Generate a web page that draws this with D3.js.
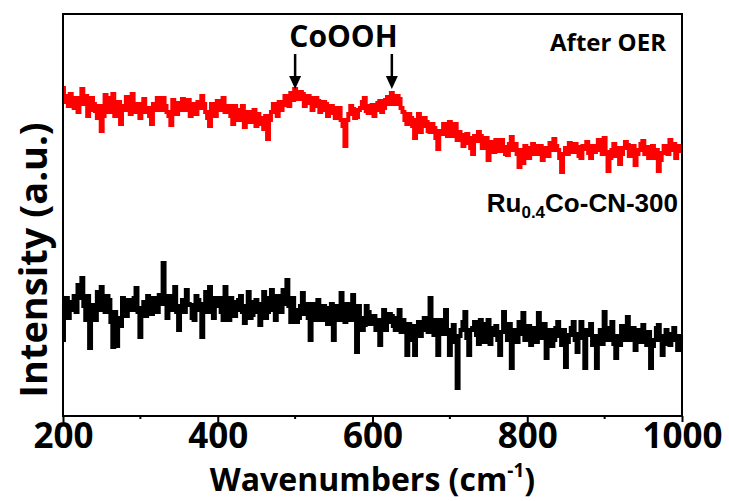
<!DOCTYPE html>
<html>
<head>
<meta charset="utf-8">
<script src="https://cdn.jsdelivr.net/npm/d3@7"></script>
<style>
  body { margin: 0; background: #fff; }
  text { font-family: "Open Sans", sans-serif; font-weight: bold; }
</style>
</head>
<body>
<div class="canvas"></div>
<script>
// wavenumber grid, 200..1000 step 2.5
const xStart = 200, xStep = 2.5;

// Ru0.4Co-CN-300 after OER (red), arbitrary units
const redValues = [
  328,314, 320,310, 322,312, 308,318, 304,316, 327,312, 320,300, 306,318, 312,305, 298,310,
  285,300, 321,308, 304,318, 322,300, 308,314, 292,310, 306,319, 313,302, 322,310, 304,312,
  298,310, 317,304, 308,300, 292,312, 306,318, 312,306, 318,310, 304,300, 291,316, 308,302,
  313,306, 317,310, 306,316, 300,312, 310,302, 314,308, 320,312, 304,298, 290,312, 308,300,
  315,306, 312,318, 304,310, 310,300, 292,310, 306,296, 301,310, 289,302, 304,294, 296,306,
  290,302, 298,292, 287,300, 277,296, 304,312, 308,300, 314,306, 311,320, 318,310, 323,316,
  327,318, 317,324, 322,310, 313,320, 318,306, 310,318, 315,304, 306,314, 312,300, 303,310,
  308,298, 301,308, 296,290, 270,296, 302,310, 307,298, 299,306, 308,314, 318,305, 303,310,
  311,300, 306,313, 315,304, 308,316, 319,312, 323,316, 312,320, 317,308, 304,296, 292,302,
  298,290, 278,296, 302,284, 290,298, 294,285, 284,292, 288,278, 267,285, 282,292, 289,280,
  294,280, 285,292, 276,284, 281,270, 273,282, 278,268, 262,280, 275,284, 280,268, 271,278,
  256,270, 274,264, 276,270, 265,276, 269,262, 261,272, 279,266, 272,262, 249,266, 253,270,
  268,258, 262,272, 270,262, 265,270, 256,268, 267,260, 273,266, 277,270, 266,258, 244,262,
  268,262, 273,266, 264,272, 269,260, 258,270, 267,274, 263,258, 270,264, 266,276, 272,262,
  278,264, 245,258, 266,272, 260,268, 252,262, 268,274, 271,260, 264,270, 251,262, 266,272,
  275,262, 269,258, 264,270, 258,266, 245,256, 263,270, 270,262, 276,266, 272,258, 265,270,
  267
];

// Ru0.4Co-CN-300 before (black)
const blackValues = [
  76,110, 118,98, 106,114, 120,104, 131,118, 138,110, 96,120, 68,100, 111,96, 124,106,
  129,112, 104,120, 116,94, 69,104, 70,98, 90,118, 112,100, 116,106, 106,118, 128,104,
  79,108, 114,100, 120,110, 102,118, 116,104, 121,112, 153,116, 98,120, 106,112, 129,104,
  86,110, 116,104, 126,112, 111,98, 96,120, 116,106, 79,112, 124,104, 129,110, 98,118,
  110,118, 104,96, 129,112, 96,118, 114,100, 106,116, 120,104, 93,110, 124,98, 101,114,
  116,104, 91,112, 124,98, 104,118, 126,106, 96,120, 116,104, 126,112, 136,110, 94,118,
  106,94, 98,110, 123,102, 112,98, 76,112, 104,96, 116,106, 96,110, 108,92, 101,112,
  76,100, 110,96, 123,108, 94,112, 106,96, 121,102, 64,110, 98,86, 91,110, 104,92,
  96,100, 86,96, 71,92, 106,86, 94,102, 100,90, 86,98, 106,84, 96,88, 61,92,
  76,90, 61,84, 94,80, 86,98, 98,84, 118,92, 81,96, 61,88, 96,82, 106,86,
  61,84, 91,74, 28,80, 86,94, 104,78, 61,86, 88,94, 81,72, 96,84, 74,92,
  96,72, 81,88, 90,76, 61,84, 104,86, 76,92, 48,80, 86,74, 94,82, 103,76,
  81,90, 71,84, 88,74, 103,80, 78,92, 58,78, 86,70, 76,88, 94,80, 71,86,
  49,74, 81,88, 94,76, 64,82, 94,78, 48,86, 81,92, 71,80, 48,78, 86,72,
  104,84, 76,88, 94,72, 58,80, 71,90, 81,76, 99,82, 76,88, 66,78, 86,74,
  91,78, 71,84, 48,70, 76,88, 91,76, 61,80, 86,72, 71,82, 88,76, 66,80,
  74
];

const xTicks = [200, 400, 600, 800, 1000];
const xMinorTicks = [300, 500, 700, 900];
const peakMarks = [500, 625];

const W = 729, H = 501;
const margin = { left: 63, right: 47, top: 14, bottom: 85 };

const svg = d3.select('.canvas').append('svg')
  .attr('width', W).attr('height', H);

const x = d3.scaleLinear().domain([200, 1000]).range([margin.left, W - margin.right]);
const y = d3.scaleLinear().domain([0, 402]).range([H - margin.bottom, margin.top]);

const toPoints = vals => vals.map((v, i) => ({ x: xStart + i * xStep, y: v }));

const line = d3.line()
  .x(d => x(d.x))
  .y(d => y(d.y))
  .curve(d3.curveStep);

svg.append('path')
  .datum(toPoints(redValues))
  .attr('d', line)
  .attr('fill', 'none')
  .attr('stroke', '#ff0000')
  .attr('stroke-width', 4);

svg.append('path')
  .datum(toPoints(blackValues))
  .attr('d', line)
  .attr('fill', 'none')
  .attr('stroke', '#000')
  .attr('stroke-width', 4);

// frame
svg.append('rect')
  .attr('x', margin.left).attr('y', margin.top)
  .attr('width', W - margin.left - margin.right)
  .attr('height', H - margin.top - margin.bottom)
  .attr('fill', 'none').attr('stroke', '#000').attr('stroke-width', 2);

// x axis
const xAxis = svg.append('g')
  .attr('transform', `translate(0,${H - margin.bottom})`)
  .call(d3.axisBottom(x).tickValues(xTicks).tickSize(6).tickPadding(1).tickFormat(d3.format('d')));
xAxis.select('.domain').remove();
xAxis.selectAll('line').attr('stroke-width', 2);
xAxis.selectAll('text').attr('fill', '#000')
  .style('font-size', '35px')
  .style('font-family', '"Open Sans", sans-serif').style('font-weight', 'bold');

svg.append('g')
  .attr('transform', `translate(0,${H - margin.bottom})`)
  .selectAll('line').data(xMinorTicks).join('line')
  .attr('x1', d => x(d)).attr('x2', d => x(d))
  .attr('y1', 0).attr('y2', 3)
  .attr('stroke', '#000').attr('stroke-width', 2);

// axis titles
const xt = svg.append('text')
  .attr('x', (margin.left + W - margin.right) / 2)
  .attr('y', 491)
  .attr('text-anchor', 'middle')
  .attr('font-size', 32);
xt.append('tspan').text('Wavenumbers (cm');
xt.append('tspan').attr('font-size', 19).attr('dy', -14).text('-1');
xt.append('tspan').attr('dy', 14).text(')');

svg.append('text')
  .attr('transform', `translate(47,260) rotate(-90)`)
  .attr('text-anchor', 'middle')
  .attr('font-size', 38)
  .text('Intensity (a.u.)');

// annotations
svg.append('text')
  .attr('x', d3.mean(peakMarks, d => x(d)))
  .attr('y', 47)
  .attr('text-anchor', 'middle')
  .attr('font-size', 30)
  .text('CoOOH');

const arrows = svg.append('g').selectAll('g').data(peakMarks).join('g')
  .attr('transform', d => `translate(${x(d)},0)`);
arrows.append('line')
  .attr('x1', 0).attr('x2', 0).attr('y1', 54).attr('y2', 78)
  .attr('stroke', '#000').attr('stroke-width', 2.5);
arrows.append('path')
  .attr('d', 'M-6,76 L6,76 L0,89 Z')
  .attr('fill', '#000');

svg.append('text')
  .attr('x', 666).attr('y', 51)
  .attr('text-anchor', 'end')
  .attr('font-size', 24)
  .text('After OER');

const lab = svg.append('text')
  .attr('x', 678).attr('y', 212)
  .attr('text-anchor', 'end')
  .style('font-family', '"Liberation Sans", Arial, sans-serif')
  .attr('font-size', 26);
lab.append('tspan').text('Ru');
lab.append('tspan').attr('font-size', 17).attr('dy', 6).text('0.4');
lab.append('tspan').attr('dy', -6).text('Co-CN-300');
</script>
</body>
</html>
